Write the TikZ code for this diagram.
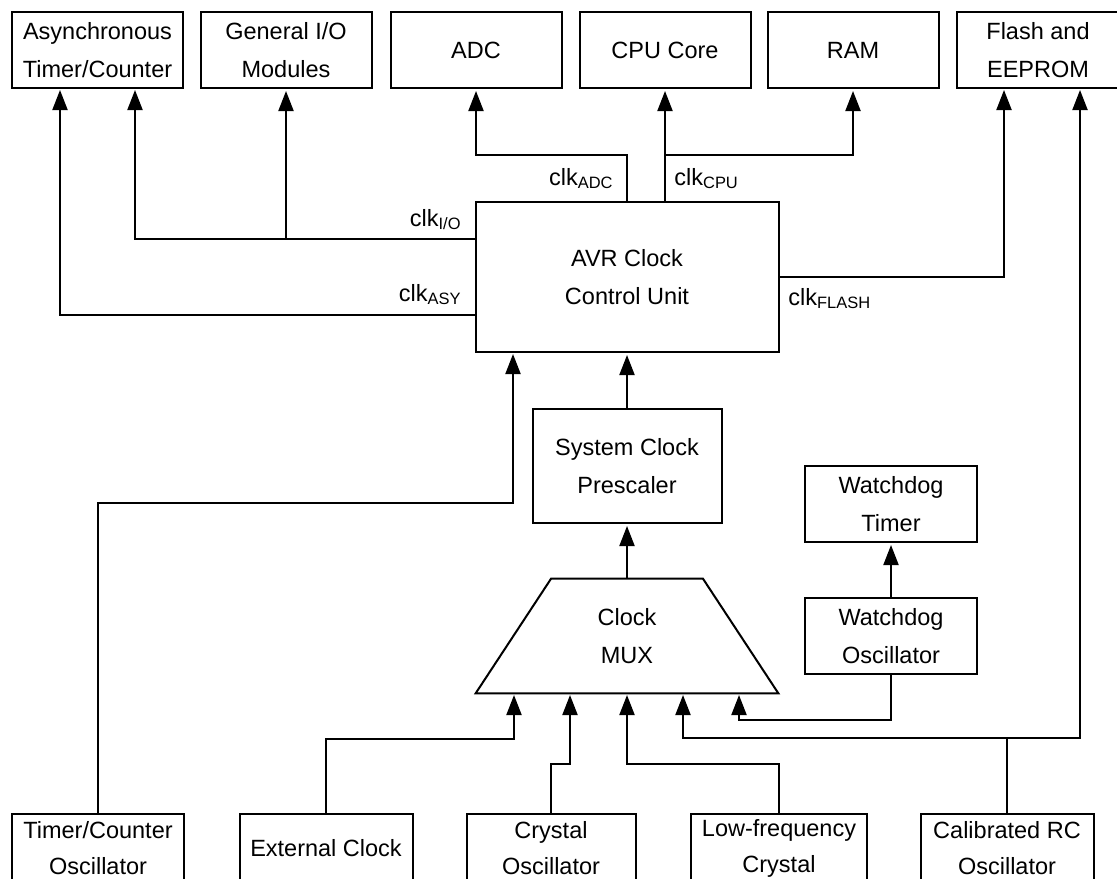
\documentclass[tikz,border=0pt]{standalone}
\usepackage{fontspec}
\setmainfont{Liberation Sans}
\usetikzlibrary{arrows.meta}
\newcommand{\diagfont}{\fontsize{11.75pt}{19pt}\selectfont}
\newcommand{\srcfont}{\fontsize{11.75pt}{18pt}\selectfont}
\begin{document}
\begin{tikzpicture}[x=0.5pt,y=-0.5pt,
  box/.style={draw,line width=1pt,inner sep=0pt,align=center,font=\diagfont},
  topbox/.style={box,minimum width=85.5pt,minimum height=38pt},
  srcbox/.style={box,minimum height=34pt,font=\srcfont},
  wire/.style={line width=1pt},
  arr/.style={wire,-{Triangle[length=10pt,width=7.5pt]},shorten >=1pt},
  lbl/.style={inner sep=0pt,font=\diagfont}]
\useasboundingbox (0,0) rectangle (1117,878);
\clip (0,0) rectangle (1117,878);

% clocked modules along the top
\node[topbox] (async) at (97.5,50) {Asynchronous\\Timer/Counter};
\node[topbox] (gio)   at (286,50)  {General I/O\\Modules};
\node[topbox] (adc)   at (476,50)  {ADC};
\node[topbox] (cpu)   at (665,50)  {CPU Core};
\node[topbox] (ram)   at (853,50)  {RAM};
\node[box,minimum width=81pt,minimum height=38pt] (flash) at (1038,50) {Flash and\\EEPROM};

% clock control, prescaler and watchdog
\node[box,minimum width=151.5pt,minimum height=75pt] (avr) at (627,277) {AVR Clock\\Control Unit};
\node[box,minimum width=94.5pt,minimum height=57pt] (pre) at (627,466) {System Clock\\Prescaler};
\node[box,minimum width=86pt,minimum height=38pt] (wdt) at (891,504) {Watchdog\\Timer};
\node[box,minimum width=86pt,minimum height=38pt] (wdo) at (891,636) {Watchdog\\Oscillator};

% clock multiplexer (trapezium)
\node[inner sep=0pt,minimum width=151pt,minimum height=57pt,align=center,font=\diagfont] (mux) at (627,636) {Clock\\MUX};
\draw[wire,line join=miter] (mux.south west) -- ([xshift=37.75pt]mux.north west)
  -- ([xshift=-37.75pt]mux.north east) -- (mux.south east) -- cycle;

% clock sources along the bottom (boxes run past the lower edge)
\node[srcbox,minimum width=86pt]   (tco)  at (98,848)    {Timer/Counter\\Oscillator};
\node[srcbox,minimum width=86.5pt] (ext)  at (326,848)   {External Clock};
\node[srcbox,minimum width=84.5pt] (xtal) at (551,848)   {Crystal\\Oscillator};
\node[srcbox,minimum width=88pt]   (lfx)  at (779,848)   {Low-frequency\\Crystal};
\node[srcbox,minimum width=86.5pt] (rc)   at (1007,848)  {Calibrated RC\\Oscillator};

% connection points
\coordinate (as1) at (60,88);
\coordinate (as2) at (135,88);
\coordinate (fl1) at (1004,88);
\coordinate (fl2) at (1080,88);
\coordinate (aADC) at (627,202);
\coordinate (aCPU) at (665,202);
\coordinate (adcbr) at (627,155);
\coordinate (cpubr) at (665,155);
\coordinate (aIO) at (475.5,239);
\coordinate (aASY) at (475.5,315);
\coordinate (aTC) at (513,352);
\coordinate (tcbend) at (513,503);
\coordinate (in1) at (514,693);
\coordinate (in2) at (570,693);
\coordinate (in3) at (627,693);
\coordinate (in4) at (683,693);
\coordinate (in5) at (739,693);
\coordinate (b1) at (514,739);
\coordinate (b2) at (570,764);
\coordinate (b3) at (627,764);
\coordinate (b4) at (683,738);
\coordinate (b5) at (739,720);
\coordinate (b6) at (1080,738);

% clock distribution
\draw[arr] (aADC) -- (adcbr) -| (adc.south);
\draw[arr] (aCPU) -- (cpu.south);
\draw[arr] (cpubr) -| (ram.south);
\draw[arr] (aIO) -| (as2);
\draw[arr] (gio.south |- aIO) -- (gio.south);
\draw[arr] (aASY) -| (as1);
\draw[arr] (avr.east) -| (fl1);

% clock generation chain
\draw[arr] (pre.north) -- (pre.north |- avr.south);
\draw[arr] (mux.north) -- (pre.south);
\draw[arr] (wdo.north) -- (wdt.south);
\draw[arr] (tco.north) |- (tcbend) -- (aTC);
\draw[arr] (ext.north) |- (b1) -- (in1);
\draw[arr] (xtal.north) |- (b2) -- (in2);
\draw[arr] (lfx.north) |- (b3) -- (in3);
\draw[arr] (rc.north) |- (b4) -- (in4);
\draw[arr] (rc.north |- b6) -- (b6) -- (fl2);
\draw[arr] (wdo.south) |- (b5) -- (in5);

% clock signal names
\node[lbl,anchor=base east] (lADC) at (614,185) {clk\textsubscript{ADC}};
\node[lbl,anchor=base west] (lCPU) at (674,185) {clk\textsubscript{CPU}};
\node[lbl,anchor=base east] (lIO) at (462,226) {clk\textsubscript{I/O}};
\node[lbl,anchor=base east] (lASY) at (462,301) {clk\textsubscript{ASY}};
\node[lbl,anchor=base west] (lFL) at (788,305) {clk\textsubscript{FLASH}};
\end{tikzpicture}
\end{document}
